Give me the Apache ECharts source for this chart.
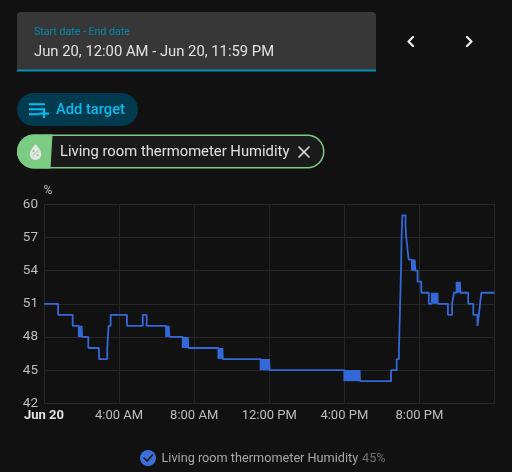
<!DOCTYPE html>
<html><head><meta charset="utf-8">
<style>html,body{margin:0;padding:0;background:#111111}#c{width:512px;height:472px}</style>
<script src="https://cdn.jsdelivr.net/npm/echarts@6/dist/echarts.min.js"></script>
</head><body><div id="c"></div>
<script>
const seriesName = 'Living room thermometer Humidity';
const yTicks = [42,45,48,51,54,57,60];
const xTickLabels = {0:'Jun 20',4:'4:00 AM',8:'8:00 AM',12:'12:00 PM',16:'4:00 PM',20:'8:00 PM'};
// [hour of day, humidity %] readings; each holds until the next one
const morningReadings = [[0,51],[.75,50],[1.53,49],
 [1.85,48],[1.88,49],[1.91,48],[1.94,49],[1.97,48],[2.0,49],[2.03,48],
 [2.36,47],[2.93,46],[3.37,47],[3.44,49],[3.55,50],[4.42,49],[5.26,50],[5.47,49],
 [6.5,48],[6.53,49],[6.56,48],[6.59,49],[6.62,48],[6.65,49],[6.68,48],
 [7.39,47],[7.42,48],[7.45,47],[7.48,48],[7.51,47],[7.54,48],[7.57,47],[7.6,48],[7.63,47],[7.66,48],[7.69,47],
 [9.29,46],[9.32,47],[9.35,46],[9.38,47],[9.41,46],[9.44,47],[9.47,46],[9.5,47],[9.53,46]];
const middayReadings = [
 [11.54,45],[11.57,46],[11.6,45],[11.63,46],[11.66,45],[11.69,46],[11.72,45],[11.75,46],[11.78,45],[11.81,46],
 [11.84,45],[11.87,46],[11.9,45],[11.93,46],[11.96,45],[11.99,46],[12.02,45],
 [16.0,44],[16.03,45],[16.06,44],[16.09,45],[16.12,44],[16.15,45],[16.18,44],[16.21,45],[16.24,44],[16.27,45],
 [16.3,44],[16.33,45],[16.36,44],[16.39,45],[16.42,44],[16.45,45],[16.48,44],[16.51,45],[16.54,44],[16.57,45],
 [16.6,44],[16.63,45],[16.66,44],[16.69,45],[16.72,44],[16.75,45],[16.78,44],[16.81,45],[16.84,44]];
const eveningReadings = [[18.49,45],[18.79,46],[18.91,47],[18.93,48],[18.94,49],[18.96,50],[18.97,51],[18.99,52],
 [19.0,53],[19.02,54],[19.03,55],[19.04,56],[19.05,57],[19.07,58],[19.09,59],
 [19.26,58],[19.3,57],[19.36,56],[19.43,55],
 [19.6,54],[19.63,55],[19.66,54],[19.69,55],[19.72,54],[19.75,55],[19.78,54],
 [19.9,53],[20.1,52],[20.5,51],
 [20.66,52],[20.69,51],[20.72,52],[20.75,51],[20.78,52],[20.81,51],[20.84,52],[20.87,51],[20.9,52],[20.93,51],[20.96,52],[20.98,51],
 [21.52,50],[21.74,51],[21.84,52],
 [21.98,53],[22.01,52],[22.04,53],[22.07,52],[22.1,53],[22.13,52],[22.16,53],[22.18,52],
 [22.6,51],[22.87,50],[23.09,49],[23.17,50],[23.23,51],[23.3,52],[24,52]];

const chart = echarts.init(document.getElementById('c'), null, {renderer:'canvas'});
const font = 'Roboto';
const T = (x,y,text,size,fill,extra) => ({type:'text',x,y,silent:true,
  style:Object.assign({text,fontFamily:font,fontSize:size,fill,verticalAlign:'middle'},extra||{})});
const S = (pts,stroke,lw) => ({type:'polyline',silent:true,shape:{points:pts},style:{stroke,lineWidth:lw,fill:null,lineCap:'round',lineJoin:'round'}});
const G = (pts,fill) => ({type:'polygon',silent:true,shape:{points:pts},style:{fill}});

const graphics = [
 {type:'rect',silent:true,shape:{x:17,y:12,width:359,height:59,r:[4,4,0,0]},style:{fill:'#373737'}},
 {type:'rect',silent:true,shape:{x:17,y:69.5,width:359,height:2},style:{fill:'#0290b8'}},
 T(34,32,'Start date - End date',10.6,'#0288ae'),
 T(34,52,'Jun 20, 12:00 AM - Jun 20, 11:59 PM',14.8,'#e1e1e1'),
 S([[413,37],[408.5,41.5],[413,46]],'#eeeeee',2.2),
 S([[467,37],[471.5,41.5],[467,46]],'#eeeeee',2.2),
 {type:'rect',silent:true,shape:{x:17,y:93,width:121,height:33,r:16.5},style:{fill:'#003a4f'}},
 {type:'rect',silent:true,shape:{x:29,y:103.2,width:16,height:2.1},style:{fill:'#05bcf0'}},
 {type:'rect',silent:true,shape:{x:29,y:108.2,width:16,height:2.1},style:{fill:'#05bcf0'}},
 {type:'rect',silent:true,shape:{x:29,y:113.2,width:10,height:2.1},style:{fill:'#05bcf0'}},
 {type:'rect',silent:true,shape:{x:39,y:112.5,width:10,height:2.1},style:{fill:'#05bcf0'}},
 {type:'rect',silent:true,shape:{x:43,y:108.5,width:2.1,height:9.5},style:{fill:'#05bcf0'}},
 T(56,110.5,'Add target',14.7,'#05bcf0',{fontWeight:500}),
 {type:'rect',silent:true,shape:{x:17.75,y:135.25,width:306,height:32.5,r:16.25},style:{fill:'#1a1a1a',stroke:'#7ccb82',lineWidth:1.5}},
 {type:'rect',silent:true,shape:{x:17,y:134.5,width:30,height:34,r:[17,0,0,17]},style:{fill:'#7ccb82'}},
 G([[46,134.5],[52.5,134.5],[50.5,168.5],[46,168.5]],'#7ccb82'),
 G([[35.5,144],[38,147],[40,150],[41.2,153],[41,156],[39.5,158.5],[37.5,159.7],[35.5,160],[33.5,159.7],[31.5,158.5],[30,156],[29.8,153],[31,150],[33,147]],'#e4e4e4'),
 S([[33,155.5],[38,150.5]],'#7ccb82',1),
 {type:'circle',silent:true,shape:{cx:33.5,cy:151,r:1},style:{fill:'#7ccb82'}},
 {type:'circle',silent:true,shape:{cx:37.5,cy:155,r:1},style:{fill:'#7ccb82'}},
 T(60,152.5,seriesName,14.8,'#e1e1e1'),
 S([[299,147],[309,157]],'#e1e1e1',1.6),
 S([[309,147],[299,157]],'#e1e1e1',1.6),
 {type:'circle',silent:true,shape:{cx:148,cy:458,r:8},style:{fill:'#3a6fdc'}},
 S([[144,458],[147,461],[152.5,455]],'#111111',1.6),
 T(161.5,459,seriesName,12.7,'#a8a8a8'),
 T(362,459,'45%',12.7,'#6f6f6f')
];

chart.setOption({
 backgroundColor:'#111111',
 animation:false,
 textStyle:{fontFamily:font},
 grid:{left:44,right:17.5,top:204.3,bottom:68.7,containLabel:false},
 xAxis:{type:'value',min:0,max:24,interval:4,
  axisLine:{show:false},axisTick:{show:false},
  splitLine:{show:true,lineStyle:{color:'#272727',width:1}},
  axisLabel:{margin:6,fontSize:13,color:'#bdbdbd',hideOverlap:false,showMinLabel:true,showMaxLabel:true,
   formatter:v=> v===0 ? '{b|'+xTickLabels[0]+'}' : (xTickLabels[v]||''),
   rich:{b:{fontWeight:'bold',fontSize:13,color:'#e1e1e1',fontFamily:font}}}},
 yAxis:{type:'value',min:yTicks[0],max:yTicks[yTicks.length-1],interval:3,
  name:'%',nameLocation:'end',nameGap:6,nameTextStyle:{color:'#bdbdbd',fontSize:12,align:'center',padding:[0,0,0,8]},
  axisLine:{show:false},axisTick:{show:false},
  splitLine:{show:true,lineStyle:{color:'#272727',width:1}},
  axisLabel:{margin:6,fontSize:13.5,color:'#bdbdbd'}},
 series:[{name:seriesName,type:'line',step:'end',showSymbol:false,symbol:'none',sampling:null,
  lineStyle:{color:'#3368d8',width:1.8},
  data:morningReadings.concat(middayReadings,eveningReadings)}],
 graphic:{elements:graphics}
});
</script></body></html>
